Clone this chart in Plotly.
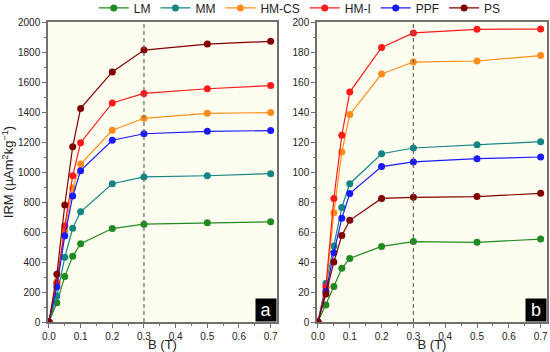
import plotly.graph_objects as go

B = [0, 0.025, 0.05, 0.075, 0.1, 0.2, 0.3, 0.5, 0.7]
names = ["LM", "MM", "HM-CS", "HM-I", "PPF", "PS"]
colors = ["#1f8a1f", "#138585", "#ff8c1a", "#ff1a1a", "#1a1aff", "#800000"]

# Panel a
a_LM = [0, 128, 304, 438, 522, 623, 652, 661, 668]
a_MM = [0, 173, 431, 625, 735, 922, 967, 975, 989]
a_HMCS = [0, 269, 612, 893, 1053, 1278, 1358, 1391, 1396]
a_HMI = [0, 258, 640, 975, 1195, 1460, 1524, 1555, 1576]
a_PPF = [0, 235, 575, 840, 1009, 1212, 1255, 1271, 1276]
a_PS = [0, 318, 780, 1169, 1424, 1667, 1813, 1853, 1871]

# Panel b
b_LM = [0, 11.3, 23.6, 35.8, 42.4, 50.4, 53.6, 53.1, 55.3]
b_MM = [0, 25.8, 50.7, 76.4, 92.2, 112.2, 116.0, 118.2, 120.2]
b_HMCS = [0, 22.0, 72.9, 113.3, 138.4, 165.3, 173.3, 174.0, 177.6]
b_HMI = [0, 23.6, 82.4, 124.5, 153.3, 183.0, 192.7, 195.1, 195.3]
b_PPF = [0, 20.4, 46.2, 69.1, 85.6, 103.6, 106.7, 108.9, 110.0]
b_PS = [0, 18.7, 40.0, 57.6, 67.8, 82.4, 83.1, 83.6, 85.8]

panel_a = [a_LM, a_MM, a_HMCS, a_HMI, a_PPF, a_PS]
panel_b = [b_LM, b_MM, b_HMCS, b_HMI, b_PPF, b_PS]

FONT = "Arial, Liberation Sans, sans-serif"
fig = go.Figure()
for i, (n, c) in enumerate(zip(names, colors)):
    fig.add_trace(go.Scatter(x=B, y=panel_a[i], name=n, mode="lines+markers",
                             line=dict(color=c, width=1.2), marker=dict(color=c, size=7),
                             xaxis="x", yaxis="y", legendgroup=n))
for i, (n, c) in enumerate(zip(names, colors)):
    fig.add_trace(go.Scatter(x=B, y=panel_b[i], name=n, mode="lines+markers",
                             line=dict(color=c, width=1.2), marker=dict(color=c, size=7),
                             xaxis="x2", yaxis="y2", legendgroup=n, showlegend=False))

axcommon = dict(showline=True, linecolor="#707070", linewidth=1.5, mirror=True,
                ticks="outside", ticklen=4, tickcolor="#707070", tickwidth=1,
                showgrid=False, zeroline=False, automargin=False,
                tickfont=dict(family=FONT, size=10, color="#222"))
xcommon = dict(axcommon, range=[-0.003, 0.72], dtick=0.1, tickformat=".1f",
               minor=dict(dtick=0.05, ticks="outside", ticklen=2, tickcolor="#707070"),
               title=dict(text="B (T)", font=dict(family=FONT, size=13, color="#222"), standoff=2))

fig.update_layout(
    width=550, height=352,
    margin=dict(l=0, r=0, t=22, b=30, autoexpand=False),
    paper_bgcolor="white", plot_bgcolor="#fefef0",
    xaxis=dict(xcommon, domain=[48/550, 277/550], anchor="y"),
    yaxis=dict(axcommon, range=[0, 2000], dtick=200, domain=[0, 1], anchor="x",
               minor=dict(dtick=100, ticks="outside", ticklen=2, tickcolor="#707070"),
               title=dict(text="IRM (µAm<sup>2</sup>kg<sup>−1</sup>)",
                          font=dict(family=FONT, size=13, color="#222"), standoff=4)),
    xaxis2=dict(xcommon, domain=[317/550, 547/550], anchor="y2"),
    yaxis2=dict(axcommon, range=[0, 200], dtick=20, domain=[0, 1], anchor="x2",
                minor=dict(dtick=10, ticks="outside", ticklen=2, tickcolor="#707070")),
    legend=dict(orientation="h", x=0.545, xanchor="center", yref="paper", y=1.047, yanchor="middle",
                font=dict(family=FONT, size=12, color="#222"), bgcolor="rgba(0,0,0,0)",
                itemwidth=30, tracegroupgap=0),
    shapes=[
        dict(type="line", xref="x", yref="y domain", x0=0.3, x1=0.3, y0=0, y1=1,
             line=dict(color="#666", width=1.2, dash="4px,3px")),
        dict(type="line", xref="x2", yref="y2 domain", x0=0.3, x1=0.3, y0=0, y1=1,
             line=dict(color="#666", width=1.2, dash="4px,3px")),
    ],
    annotations=[
        dict(text="a", xref="x domain", yref="y domain", x=1, y=0, xanchor="right", yanchor="bottom",
             showarrow=False, bgcolor="black", font=dict(family=FONT, size=18, color="white"),
             width=18, height=20),
        dict(text="b", xref="x2 domain", yref="y2 domain", x=1, y=0, xanchor="right", yanchor="bottom",
             showarrow=False, bgcolor="black", font=dict(family=FONT, size=18, color="white"),
             width=18, height=20),
    ],
)
fig.write_html("out.html", config={"displayModeBar": False},
               post_script="document.body.style.margin='0';")
